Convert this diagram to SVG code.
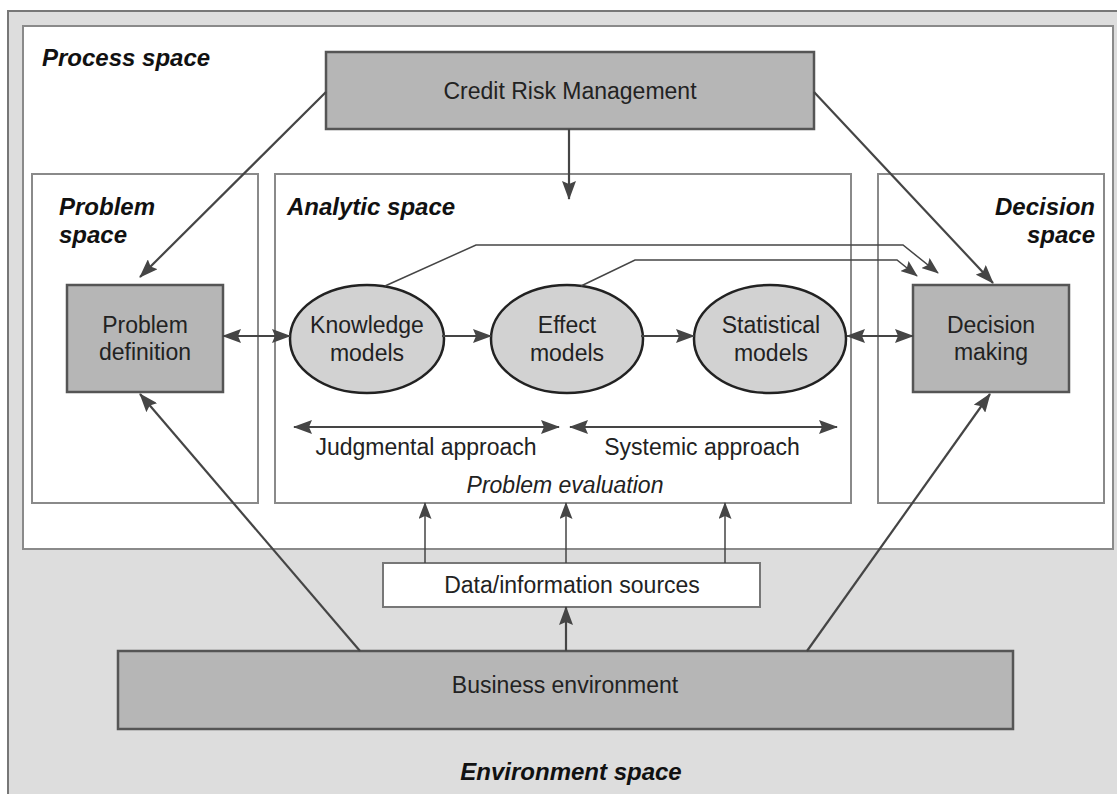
<svg xmlns="http://www.w3.org/2000/svg" width="1117" height="794" viewBox="0 0 1117 794">
<defs>
<marker id="ah" viewBox="0 0 19 14" refX="18" refY="7" markerWidth="19" markerHeight="14" markerUnits="userSpaceOnUse" orient="auto-start-reverse">
<path d="M0,0 L19,7 L0,14 L3,7 Z" fill="#454545"/>
</marker>
<marker id="ahs" viewBox="0 0 17 13" refX="16" refY="6.5" markerWidth="17" markerHeight="13" markerUnits="userSpaceOnUse" orient="auto-start-reverse">
<path d="M0,0 L17,6.5 L0,13 L3,6.5 Z" fill="#454545"/>
</marker>
</defs>
<style>
.space{fill:#fff;stroke:#8a8a8a;stroke-width:2}
.box{fill:#b6b6b6;stroke:#555;stroke-width:2.5}
.ell{fill:#d2d2d2;stroke:#222;stroke-width:2.5}
.lbl{font-family:"Liberation Sans",Arial,sans-serif;font-size:24px;font-weight:bold;font-style:italic;fill:#111}
.t{font-family:"Liberation Sans",Arial,sans-serif;font-size:23px;fill:#222;text-anchor:middle}
.it{font-style:italic}
.c{fill:none;stroke:#454545;stroke-width:2.2}
.a{marker-end:url(#ah)}
.as{marker-end:url(#ahs)}
.d{marker-start:url(#ah);marker-end:url(#ah)}
.thin{stroke-width:1.5}
</style>
<g id="environment-space">
<rect x="8" y="11" width="1120" height="800" fill="#dddddd" stroke="#777" stroke-width="2"/>
<text class="lbl" x="571" y="780" text-anchor="middle">Environment space</text>
</g>
<g id="process-space">
<rect class="space" x="23" y="26" width="1090" height="523"/>
<text class="lbl" x="42" y="66">Process space</text>
</g>
<g id="problem-space">
<rect class="space" x="32" y="174" width="226" height="329"/>
<text class="lbl" x="59" y="215">Problem</text>
<text class="lbl" x="59" y="243">space</text>
</g>
<g id="analytic-space">
<rect class="space" x="275" y="174" width="576" height="329"/>
<text class="lbl" x="287" y="215">Analytic space</text>
<text class="t it" x="565" y="493">Problem evaluation</text>
</g>
<g id="decision-space">
<rect class="space" x="878" y="174" width="226" height="329"/>
<text class="lbl" x="1095" y="215" text-anchor="end">Decision</text>
<text class="lbl" x="1095" y="243" text-anchor="end">space</text>
</g>
<g id="credit-risk-management">
<rect class="box" x="326" y="52" width="488" height="77"/>
<text class="t" x="570" y="99">Credit Risk Management</text>
</g>
<g id="problem-definition">
<rect class="box" x="67" y="285" width="156" height="107"/>
<text class="t" x="145" y="333">Problem</text>
<text class="t" x="145" y="360">definition</text>
</g>
<g id="decision-making">
<rect class="box" x="913" y="285" width="156" height="107"/>
<text class="t" x="991" y="333">Decision</text>
<text class="t" x="991" y="360">making</text>
</g>
<g id="knowledge-models">
<ellipse class="ell" cx="367" cy="339" rx="77" ry="54"/>
<text class="t" x="367" y="333">Knowledge</text>
<text class="t" x="367" y="361">models</text>
</g>
<g id="effect-models">
<ellipse class="ell" cx="567" cy="339" rx="76" ry="54"/>
<text class="t" x="567" y="333">Effect</text>
<text class="t" x="567" y="361">models</text>
</g>
<g id="statistical-models">
<ellipse class="ell" cx="770" cy="339" rx="76" ry="54"/>
<text class="t" x="771" y="333">Statistical</text>
<text class="t" x="771" y="361">models</text>
</g>
<g id="approaches">
<text class="t" x="426" y="455">Judgmental approach</text>
<text class="t" x="702" y="455">Systemic approach</text>
</g>
<g id="data-information-sources">
<rect x="383" y="563" width="377" height="44" fill="#fff" stroke="#777" stroke-width="2"/>
<text class="t" x="572" y="593">Data/information sources</text>
</g>
<g id="business-environment">
<rect class="box" x="118" y="651" width="895" height="78"/>
<text class="t" x="565" y="693">Business environment</text>
</g>
<g id="connectors">
<line class="c a" x1="326" y1="92" x2="140" y2="277"/>
<line class="c a" x1="814" y1="92" x2="993" y2="283"/>
<line class="c a" x1="569" y1="129" x2="569" y2="199"/>
<polyline class="c as thin" points="385,286 476,245 903,245 938,273"/>
<polyline class="c as thin" points="581,286 635,260 897,260 917,276"/>
<line class="c d" x1="223" y1="336" x2="290" y2="336"/>
<line class="c a" x1="442" y1="336" x2="491" y2="336"/>
<line class="c a" x1="641" y1="336" x2="694" y2="336"/>
<line class="c d" x1="847" y1="336" x2="913" y2="336"/>
<line class="c d" x1="294" y1="427" x2="559" y2="427"/>
<line class="c d" x1="570" y1="427" x2="837" y2="427"/>
<line class="c as thin" x1="425" y1="563" x2="425" y2="503"/>
<line class="c as thin" x1="566" y1="563" x2="566" y2="503"/>
<line class="c as thin" x1="725" y1="563" x2="725" y2="503"/>
<line class="c a" x1="566" y1="651" x2="566" y2="607"/>
<line class="c a" x1="360" y1="651" x2="140" y2="394"/>
<line class="c a" x1="807" y1="651" x2="990" y2="394"/>
</g>
</svg>
